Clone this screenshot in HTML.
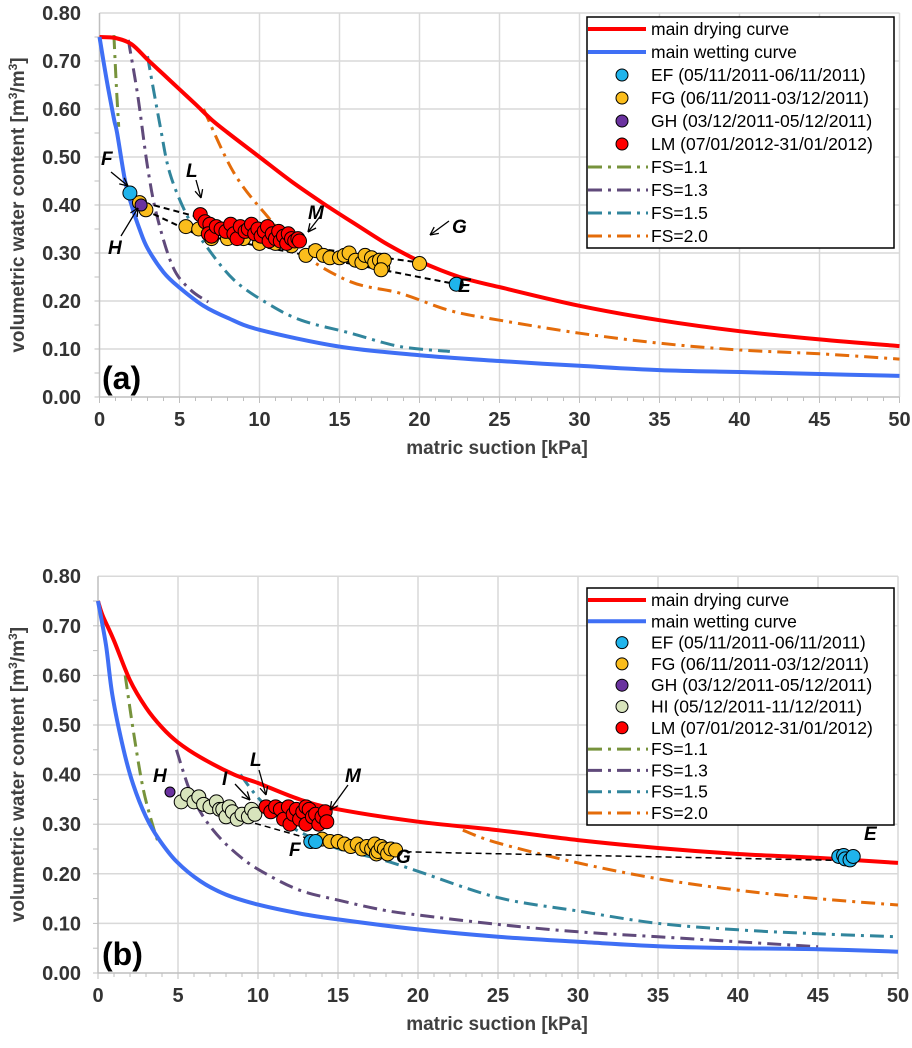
<!DOCTYPE html>
<html><head><meta charset="utf-8"><style>
body{margin:0;background:#fff;}
svg{display:block;font-family:"Liberation Sans",Arial,sans-serif;}
</style></head><body>
<svg id="fig" width="912" height="1048" viewBox="0 0 912 1048"></svg>
<script>
// ===== Panel (a) data =====
const aDryX=[0,1,2,3,4,5,6,7,8,10,12,14,16,18,20,22.5,25,30,35,40,45,50];
const aDryY=[0.75,0.748,0.735,0.703,0.672,0.641,0.61,0.578,0.551,0.50,0.449,0.403,0.36,0.318,0.283,0.25,0.229,0.19,0.16,0.137,0.12,0.106];
const aWetX=[0,0.45,0.9,1.1,1.6,2,2.5,3,4,5,6.5,8,10,15,20,25,30,35,40,45,50];
const aWetY=[0.75,0.66,0.58,0.55,0.45,0.40,0.35,0.31,0.26,0.228,0.19,0.165,0.14,0.105,0.087,0.075,0.065,0.056,0.052,0.048,0.044];
const aFS11X=[0.9,1.05,1.2];const aFS11Y=[0.754,0.65,0.563];
const aFS13X=[1.8,2.4,3.0,3.6,4.6,5.7,6.8];const aFS13Y=[0.744,0.626,0.48,0.376,0.27,0.223,0.198];
const aFS15X=[3.0,3.8,4.4,5.5,6.7,8.4,10.5,12.6,15.7,18.8,21.9];const aFS15Y=[0.71,0.563,0.466,0.376,0.313,0.244,0.195,0.16,0.133,0.105,0.095];
const aFS20X=[6.5,8.4,10.5,12.6,15.7,18.8,21.9,25,30,35,40,45,50];const aFS20Y=[0.60,0.467,0.376,0.30,0.24,0.216,0.18,0.16,0.133,0.112,0.098,0.09,0.079];
const aEF=[[1.9,0.425],[22.3,0.235]];
const aFG=[[2.5,0.405],[2.9,0.39],[5.4,0.355],[6.2,0.35],[7,0.33],[8,0.33],[9,0.33],[10,0.32],[11,0.32],[12,0.315],[12.9,0.295],[13.5,0.305],[14,0.295],[14.4,0.29],[15,0.29],[15.3,0.295],[15.6,0.3],[16,0.285],[16.4,0.28],[16.6,0.295],[17,0.29],[17.2,0.28],[17.5,0.285],[17.7,0.27],[17.8,0.285],[17.6,0.265],[20,0.278]];
const aGH=[[2.6,0.40]];
const aLM=[[6.3,0.38],[6.6,0.365],[6.9,0.36],[6.8,0.34],[7.0,0.335],[7.3,0.355],[7.6,0.35],[7.9,0.345],[8.2,0.36],[8.4,0.34],[8.6,0.33],[8.8,0.355],[9.1,0.345],[9.3,0.35],[9.5,0.36],[9.7,0.34],[9.9,0.35],[10.1,0.335],[10.3,0.345],[10.5,0.355],[10.6,0.325],[10.8,0.34],[11.0,0.33],[11.2,0.345],[11.3,0.325],[11.5,0.335],[11.7,0.32],[11.8,0.34],[12.0,0.33],[12.2,0.325],[12.4,0.33],[12.5,0.325]];
const aDash1=[[2.2,0.41],[13.5,0.31],[20,0.28]];
const aDash2=[[2.8,0.39],[6,0.34],[22.3,0.235]];
// ===== Panel (b) data =====
const bDryX=[0,0.3,1,2,3,4,5,6.4,8.5,10,12.6,15,20,25,30,35,40,45,50];
const bDryY=[0.75,0.72,0.67,0.59,0.535,0.495,0.465,0.435,0.40,0.383,0.35,0.33,0.305,0.288,0.268,0.252,0.24,0.232,0.222];
const bWetX=[0,0.5,0.9,1.6,2.2,3.0,3.8,4.9,6.4,8,10,12.6,15,20,25,30,35,40,45,50];
const bWetY=[0.75,0.661,0.56,0.45,0.38,0.315,0.27,0.225,0.185,0.158,0.138,0.12,0.108,0.088,0.073,0.063,0.054,0.05,0.048,0.043];
const bFS11X=[1.7,2.2,2.8,3.4,3.8];const bFS11Y=[0.60,0.49,0.375,0.30,0.26];
const bFS13X=[4.9,5.9,7.2,8.9,10.5,12.6,15,17.8,20,25,30,35,40,45];const bFS13Y=[0.45,0.355,0.288,0.234,0.20,0.167,0.147,0.127,0.117,0.098,0.083,0.073,0.063,0.053];
const bFS15X=[8.9,10.1,11.8,14.7,17.8,20,25,30,35,40,45,50];const bFS15Y=[0.40,0.35,0.30,0.254,0.228,0.205,0.152,0.125,0.10,0.087,0.079,0.073];
const bFS20X=[22.8,25,30,35,40,45,50];const bFS20Y=[0.288,0.262,0.222,0.19,0.167,0.15,0.137];
const bEF=[[13.3,0.265],[13.6,0.265],[46.3,0.235],[46.6,0.237],[46.7,0.23],[47.0,0.228],[47.2,0.235]];
const bFG=[[14.0,0.27],[14.5,0.265],[15.0,0.265],[15.4,0.26],[15.8,0.255],[16.2,0.26],[16.5,0.25],[16.8,0.255],[17.1,0.25],[17.3,0.26],[17.4,0.24],[17.5,0.245],[17.7,0.255],[17.9,0.25],[18.1,0.24],[18.3,0.25],[18.6,0.248]];
const bGH=[[4.5,0.365]];
const bHI=[[5.2,0.345],[5.6,0.36],[6.0,0.345],[6.3,0.355],[6.6,0.34],[7.0,0.335],[7.4,0.345],[7.6,0.33],[7.8,0.33],[8.0,0.315],[8.2,0.335],[8.4,0.325],[8.7,0.31],[9.0,0.32],[9.4,0.315],[9.6,0.33],[9.8,0.32]];
const bLM=[[10.5,0.335],[10.8,0.325],[11.1,0.335],[11.4,0.33],[11.6,0.31],[11.9,0.335],[12.0,0.3],[12.2,0.32],[12.4,0.33],[12.6,0.31],[12.8,0.325],[13.0,0.3],[13.0,0.335],[13.2,0.33],[13.4,0.315],[13.6,0.32],[13.8,0.3],[14.0,0.315],[14.2,0.325],[14.3,0.305]];
const bDash=[[5,0.345],[10,0.30],[13.3,0.27]];
const bDash2=[[18.6,0.245],[22.5,0.242],[46.5,0.227]];
const xTicks=[0,5,10,15,20,25,30,35,40,45,50];
const yTicks=[0,0.1,0.2,0.3,0.4,0.5,0.6,0.7,0.8];

const NS='http://www.w3.org/2000/svg';
const svg=document.getElementById('fig');
function el(tag,attrs,parent,text){const e=document.createElementNS(NS,tag);for(const k in attrs)e.setAttribute(k,attrs[k]);if(text!==undefined)e.textContent=text;(parent||svg).appendChild(e);return e;}
const C={dry:'#ff0000',wet:'#3f6ff5',ef:'#1fb4ec',fg:'#fbbd1c',gh:'#6a329f',hi:'#d8e4bc',lm:'#ff0000',fs11:'#77933c',fs13:'#604a7b',fs15:'#31859c',fs20:'#e46c0a'};
const DD='14 6 3 6';

function smooth(P){
  if(P.length<3)return P.map((p,i)=>(i?'L':'M')+p[0].toFixed(1)+','+p[1].toFixed(1)).join(' ');
  let d='M'+P[0][0].toFixed(1)+','+P[0][1].toFixed(1);
  for(let i=0;i<P.length-1;i++){
    const p0=P[i-1]||P[i],p1=P[i],p2=P[i+1],p3=P[i+2]||P[i+1];
    const c1=[p1[0]+(p2[0]-p0[0])/6,p1[1]+(p2[1]-p0[1])/6];
    const c2=[p2[0]-(p3[0]-p1[0])/6,p2[1]-(p3[1]-p1[1])/6];
    d+=' C'+c1.map(v=>v.toFixed(1)).join(',')+' '+c2.map(v=>v.toFixed(1)).join(',')+' '+p2.map(v=>v.toFixed(1)).join(',');
  }
  return d;
}

function panel(cfg){
  const g=el('g',{});
  
  
  const sx=v=>cfg.x0+v*16, sy=v=>cfg.yb-v*cfg.ky;
  xTicks.forEach(t=>{if(t>0){const l=el('line',{x1:sx(t),x2:sx(t),y1:sy(0.8),y2:sy(0),stroke:'#d9d9d9','stroke-width':1.5},g);}});
  yTicks.forEach(t=>{if(t>0){const l=el('line',{x1:sx(0),x2:sx(50),y1:sy(t),y2:sy(t),stroke:'#d9d9d9','stroke-width':1.5},g);}});
  const ax=el('line',{x1:sx(0),x2:sx(50),y1:sy(0),y2:sy(0),stroke:'#bfbfbf','stroke-width':1.5},g);
  const ay=el('line',{x1:sx(0),x2:sx(0),y1:sy(0),y2:sy(0.8),stroke:'#bfbfbf','stroke-width':1.5},g);
  for(let i=0;i<=50;i++){el('line',{x1:sx(i),x2:sx(i),y1:sy(0),y2:sy(0)+(i%5?4:6),stroke:'#bfbfbf','stroke-width':1},g);}
  for(let i=0;i<16;i++){const v=i*0.05;el('line',{x1:sx(0)-5,x2:sx(0),y1:sy(v),y2:sy(v),stroke:'#bfbfbf','stroke-width':1},g);}
  xTicks.forEach(t=>{const tx=el('text',{x:sx(t),y:sy(0)+29,'text-anchor':'middle','font-size':20,'font-weight':'bold',fill:'#333'},g,String(t));});
  yTicks.forEach(t=>{const tx=el('text',{x:81,y:sy(t)+7,'text-anchor':'end','font-size':20,'font-weight':'bold',fill:'#333'},g,t.toFixed(2));});
  const xt=el('text',{x:497,y:sy(0)+57,'text-anchor':'middle','font-size':19,'font-weight':'bold',fill:'#404040'},g,'matric suction [kPa]');
  const yc=(sy(0)+sy(0.8))/2;
  const yt=el('text',{x:0,y:0,transform:`translate(24,${yc}) rotate(-90)`,'text-anchor':'middle','font-size':19,'font-weight':'bold',fill:'#404040'},g);
  
  el('tspan',{},yt,'volumetric water content [m');el('tspan',{'baseline-shift':'super','font-size':12},yt,'3');el('tspan',{},yt,'/m');el('tspan',{'baseline-shift':'super','font-size':12},yt,'3');el('tspan',{},yt,']');
  const pl=el('text',{x:102,y:sy(0)-8,'font-size':32,'font-weight':'bold',fill:'#000'},g,cfg.label);
  function curve(xs,ys,color,w,dash,name){const d=smooth(xs.map((x,i)=>[sx(x),sy(ys[i])]));const p=el('path',{d:d,fill:'none',stroke:color,'stroke-width':w,'stroke-dasharray':dash||'none','stroke-linejoin':'round'},g);}
  cfg.curves.forEach(c=>curve(c[0],c[1],c[2],c[3],c[4],c[5]));
  cfg.dashes.forEach(dl=>{const p=el('path',{d:dl.map((q,i)=>(i?'L':'M')+sx(q[0])+','+sy(q[1])).join(' '),fill:'none',stroke:'#000','stroke-width':cfg.dw,'stroke-dasharray':'6 4'},g);});
  cfg.pts.forEach(s=>{s[0].forEach(q=>{const c=el('circle',{cx:sx(q[0]),cy:sy(q[1]),r:s[2]||7,fill:s[1],stroke:'#000','stroke-width':1},g);});});
  cfg.ann.forEach(a=>{const t=el('text',{x:a[1],y:a[2],'font-size':19,'font-weight':'bold','font-style':'italic',fill:'#000'},g,a[0]);
    if(a[3]!==undefined){const x1=a[3],y1=a[4],x2=a[5],y2=a[6];el('line',{x1:x1,y1:y1,x2:x2,y2:y2,stroke:'#000','stroke-width':1.3},g);const ang=Math.atan2(y2-y1,x2-x1);[0.45,-0.45].forEach(o=>el('line',{x1:x2,y1:y2,x2:x2-9*Math.cos(ang+o),y2:y2-9*Math.sin(ang+o),stroke:'#000','stroke-width':1.3},g));}});
  const lg=el('g',{},g);
  const ent=cfg.legend;
  el('rect',{x:587,y:cfg.ly,width:307,height:(ent.length-1)*cfg.lh+24,fill:'#fff',stroke:'#000','stroke-width':1.5},lg);
  ent.forEach((e,i)=>{const y=cfg.ly+12+i*cfg.lh;
    const eg=el('g',{},lg);
    if(e[0]==='line')el('line',{x1:588,x2:646,y1:y,y2:y,stroke:e[1],'stroke-width':4},eg);
    else if(e[0]==='pt')el('circle',{cx:622,cy:y,r:6,fill:e[1],stroke:'#000','stroke-width':1},eg);
    else el('line',{x1:588,x2:648,y1:y,y2:y,stroke:e[1],'stroke-width':3,'stroke-dasharray':DD},eg);
    el('text',{x:651,y:y+6,'font-size':17.5,fill:'#000'},eg,e[2]);});
}

panel({name:'panel-a',label:'(a)',x0:99.5,yb:397,ky:480,dw:2,ly:17,lh:23,
 curves:[[aFS11X,aFS11Y,C.fs11,3,DD,'fs-1.1-curve'],[aFS13X,aFS13Y,C.fs13,3,DD,'fs-1.3-curve'],[aFS15X,aFS15Y,C.fs15,3,DD,'fs-1.5-curve'],[aFS20X,aFS20Y,C.fs20,3,DD,'fs-2.0-curve'],[aDryX,aDryY,C.dry,4,null,'main-drying-curve'],[aWetX,aWetY,C.wet,4,null,'main-wetting-curve']],
 dashes:[aDash1,aDash2],
 pts:[[aFG,C.fg,7,'fg'],[aLM,C.lm,7,'lm'],[aEF,C.ef,7,'ef'],[aGH,C.gh,6,'gh']],
 ann:[['F',101,165,111,172,128,186],['H',108,254,121,236,138,208],['L',186,177,196,180,201,198],['M',308,219,322,214,308,232],['G',452,233,449,221,430,235],['E',458,292]],
 legend:[['line',C.dry,'main drying curve'],['line',C.wet,'main wetting curve'],['pt',C.ef,'EF (05/11/2011-06/11/2011)'],['pt',C.fg,'FG (06/11/2011-03/12/2011)'],['pt',C.gh,'GH (03/12/2011-05/12/2011)'],['pt',C.lm,'LM (07/01/2012-31/01/2012)'],['dd',C.fs11,'FS=1.1'],['dd',C.fs13,'FS=1.3'],['dd',C.fs15,'FS=1.5'],['dd',C.fs20,'FS=2.0']]});

panel({name:'panel-b',label:'(b)',x0:98,yb:973,ky:496,dw:1.5,ly:588,lh:21.3,
 curves:[[bFS11X,bFS11Y,C.fs11,3,DD,'fs-1.1-curve'],[bFS13X,bFS13Y,C.fs13,3,DD,'fs-1.3-curve'],[bFS15X,bFS15Y,C.fs15,3,DD,'fs-1.5-curve'],[bFS20X,bFS20Y,C.fs20,3,DD,'fs-2.0-curve'],[bDryX,bDryY,C.dry,4,null,'main-drying-curve'],[bWetX,bWetY,C.wet,4,null,'main-wetting-curve']],
 dashes:[bDash,bDash2],
 pts:[[bHI,C.hi,7,'hi'],[bLM,C.lm,7,'lm'],[bFG,C.fg,7,'fg'],[bEF,C.ef,7,'ef'],[bGH,C.gh,5,'gh']],
 ann:[['H',153,782],['I',222,785,235,784,250,800],['L',250,766,259,770,266,795],['M',345,782,348,785,330,810],['F',289,856],['G',396,863],['E',864,840]],
 legend:[['line',C.dry,'main drying curve'],['line',C.wet,'main wetting curve'],['pt',C.ef,'EF (05/11/2011-06/11/2011)'],['pt',C.fg,'FG (06/11/2011-03/12/2011)'],['pt',C.gh,'GH (03/12/2011-05/12/2011)'],['pt',C.hi,'HI (05/12/2011-11/12/2011)'],['pt',C.lm,'LM (07/01/2012-31/01/2012)'],['dd',C.fs11,'FS=1.1'],['dd',C.fs13,'FS=1.3'],['dd',C.fs15,'FS=1.5'],['dd',C.fs20,'FS=2.0']]});
</script>
</body></html>
